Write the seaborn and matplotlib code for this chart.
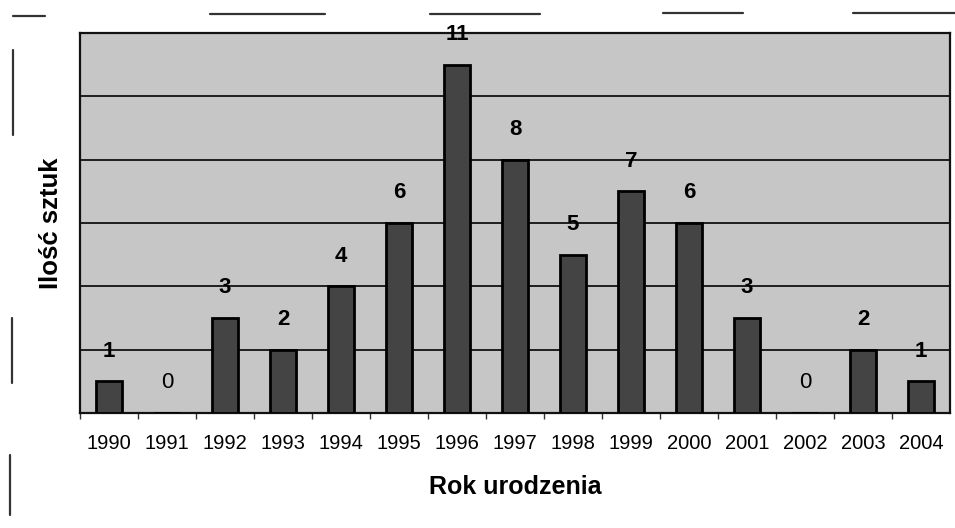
import matplotlib
matplotlib.use("Agg")
import matplotlib.pyplot as plt
import seaborn as sns
import pandas as pd
import numpy as np

years = ["1990", "1991", "1992", "1993", "1994", "1995", "1996", "1997",
         "1998", "1999", "2000", "2001", "2002", "2003", "2004"]
counts = [1, 0, 3, 2, 4, 6, 11, 8, 5, 7, 6, 3, 0, 2, 1]
x_title = "Rok urodzenia"
y_title = "Ilość sztuk"

sns.set_theme(style="white")
plt.rcParams['font.family'] = ['Liberation Sans', 'DejaVu Sans']

df = pd.DataFrame({"year": years, "count": counts})

fig = plt.figure(figsize=(9.55, 5.28), dpi=100)
ax = fig.add_axes([80/955, (528-413)/528, (950-80)/955, (413-33)/528])
ax.set_facecolor("#c6c6c6")

sns.barplot(data=df, x="year", y="count", color="#444444", width=0.44,
            edgecolor="black", linewidth=2.0, saturation=1, ax=ax, zorder=3)

ax.set_ylim(0, 12)
ax.set_xlim(-0.5, len(years) - 0.5)
ax.set_yticks([0, 2, 4, 6, 8, 10, 12])
ax.set_yticklabels([])
ax.yaxis.grid(True, color="#111111", linewidth=1.3, zorder=0)
ax.set_axisbelow(True)
ax.tick_params(axis="y", length=0)
ax.set_xticks(np.arange(len(years)) - 0.5, minor=True)
ax.tick_params(axis="x", which="major", length=0, labelsize=14.5, pad=15, colors="black")
ax.tick_params(axis="x", which="minor", length=4, width=1, direction="out", color="#333333", bottom=True)

for s in ax.spines.values():
    s.set_color("#111111")
    s.set_linewidth(1.6)

for i, v in enumerate(counts):
    ax.text(i, v + 0.95, str(v), ha="center", va="center", fontsize=16,
            color="black", fontweight="bold" if v else "normal", zorder=5)

ax.set_xlabel(x_title, fontsize=18, fontweight="bold", labelpad=16, color="black")
ax.set_ylabel(y_title, fontsize=18.5, fontweight="bold", labelpad=9, color="black")

# scan border artifacts
def hline(x0, x1, y):
    fig.add_artist(plt.Line2D([x0/955, x1/955], [1 - y/528, 1 - y/528], color="#333333", lw=1.6))

def vline(x, y0, y1):
    fig.add_artist(plt.Line2D([x/955, x/955], [1 - y0/528, 1 - y1/528], color="#333333", lw=1.6))

hline(13, 45, 16)
hline(210, 325, 14)
hline(430, 540, 14)
hline(663, 743, 13)
hline(853, 955, 13)
vline(13, 50, 135)
vline(12, 318, 383)
vline(10, 455, 515)

fig.savefig("out.png", dpi=100)
